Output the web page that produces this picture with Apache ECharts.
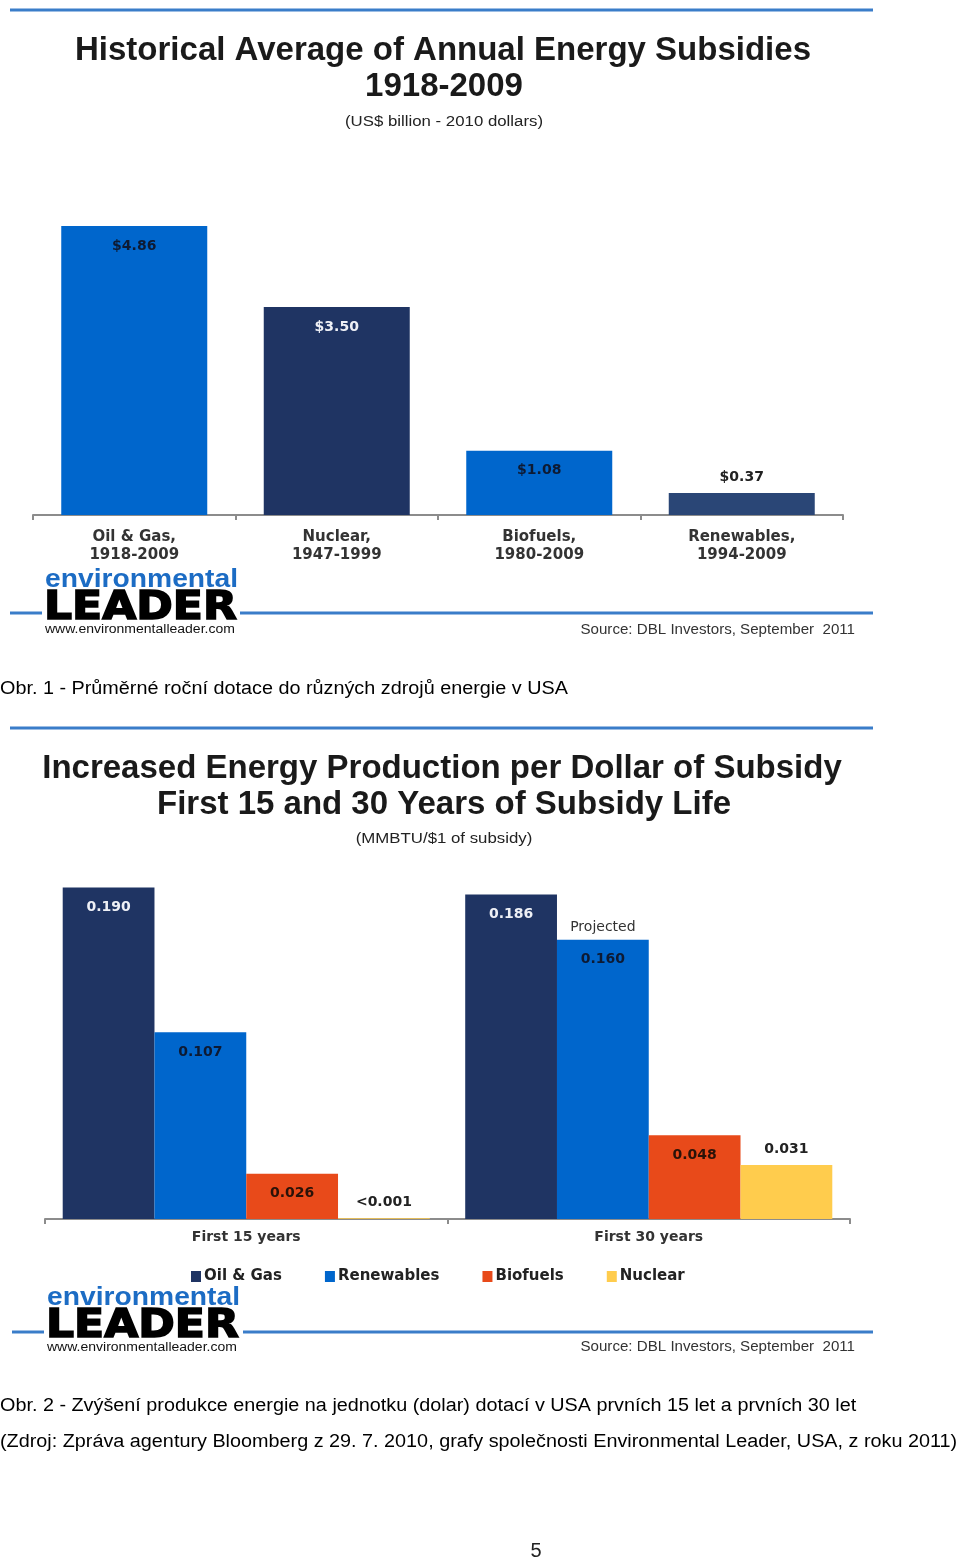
<!DOCTYPE html>
<html><head><meta charset="utf-8">
<script src="https://cdn.jsdelivr.net/npm/echarts@6/dist/echarts.min.js"></script>
<style>html,body{margin:0;padding:0;background:#fff}#c{width:960px;height:1561px}</style>
</head><body><div id="c"></div>
<script>
// ---- Chart 1 data ----
const subsidyCategories = ['Oil & Gas,\n1918-2009', 'Nuclear,\n1947-1999', 'Biofuels,\n1980-2009', 'Renewables,\n1994-2009'];
const subsidyValues = [4.86, 3.50, 1.08, 0.37];
const subsidyLabels = ['$4.86', '$3.50', '$1.08', '$0.37'];

// ---- Chart 2 data ----
const periodCategories = ['First 15 years', 'First 30 years'];
const seriesNames = ['Oil & Gas', 'Renewables', 'Biofuels', 'Nuclear'];
const oilGasValues = [0.190, 0.186];
const renewablesValues = [0.107, 0.160];
const biofuelsValues = [0.026, 0.048];
const nuclearValues = [0.0005, 0.031];
const oilGasLabels = ['0.190', '0.186'];
const renewablesLabels = ['0.107', '0.160'];
const biofuelsLabels = ['0.026', '0.048'];
const nuclearLabels = ['<0.001', '0.031'];

// ---- styles ----
const NAVY = '#1f3463', BLUE = '#0066cc', ORANGE = '#e84a1a', YELLOW = '#ffcc4d';
const LINE_BLUE = '#3a7dc9';
const VAL_FONT = 'DejaVu Sans';
const c1Colors = [BLUE, NAVY, BLUE, '#2a4676'];
const c1LabelColors = ['#0d1a33', '#eef0f6', '#0d1a33', '#222'];
const c1LabelPos = ['insideTop', 'insideTop', 'insideTop', 'top'];

function valLabel(text, color, pos) {
  return { show: true, formatter: text, color: color, position: pos,
    distance: pos === 'top' ? 9 : 13, fontFamily: VAL_FONT, fontWeight: 'bold', fontSize: 14 };
}

const chart1Data = subsidyValues.map((v, i) => ({
  value: v, itemStyle: { color: c1Colors[i] },
  label: valLabel(subsidyLabels[i], c1LabelColors[i], c1LabelPos[i])
}));

function series2(name, values, labels, color, labelColors, positions, extra) {
  return Object.assign({
    name: name, type: 'bar', xAxisIndex: 1, yAxisIndex: 1,
    barGap: '0%', barCategoryGap: '8.8%',
    itemStyle: { color: color },
    data: values.map((v, i) => ({ value: v, label: valLabel(labels[i], labelColors[i], positions[i]) }))
  }, extra || {});
}

function txt(text, x, y, font, fill, align, extra) {
  return Object.assign({ type: 'text', x: x, y: y, silent: true,
    style: { text: text, font: font, fill: fill, align: align || 'center', verticalAlign: 'middle' } }, extra || {});
}
function hline(x1, x2, y) {
  return { type: 'line', silent: true, shape: { x1: x1, y1: y, x2: x2, y2: y }, style: { stroke: LINE_BLUE, lineWidth: 3 } };
}
function logo(dx, dy) {
  const lead = txt('LEADER', 44 + dx, 609 + dy, 'bold 39px "DejaVu Sans"', '#000', 'left', { scaleX: 1.13 });
  lead.style.stroke = '#000'; lead.style.lineWidth = 1.6;
  return [
    txt('environmental', 45 + dx, 580 + dy, 'bold 25px "Liberation Sans"', '#1c6cc4', 'left', { scaleX: 1.13 }),
    lead,
    txt('www.environmentalleader.com', 45 + dx, 630 + dy, '12.5px "Liberation Sans"', '#111', 'left', { scaleX: 1.12 })
  ];
}

const TITLE_FONT = 'bold 33px "Liberation Sans"';
const SUB_FONT = '14px "Liberation Sans"';
const CAP_FONT = '18px "Liberation Sans"';
const graphics = [].concat(
  [hline(10, 873, 10),
   txt('Historical Average of Annual Energy Subsidies', 443, 51, TITLE_FONT, '#1a1a1a'),
   txt('1918-2009', 444, 87, TITLE_FONT, '#1a1a1a'),
   txt('(US$ billion - 2010 dollars)', 444, 122, SUB_FONT, '#222', 'center', { scaleX: 1.2 }),
   hline(10, 42, 613), hline(240, 873, 613),
   txt('Source: DBL Investors, September  2011', 855, 630, SUB_FONT, '#333', 'right', { scaleX: 1.08 }),
   txt('Obr. 1 - Průměrné roční dotace do různých zdrojů energie v USA', 0, 689, CAP_FONT, '#000', 'left', { scaleX: 1.1 }),
   hline(10, 873, 728),
   txt('Increased Energy Production per Dollar of Subsidy', 442, 769, TITLE_FONT, '#1a1a1a'),
   txt('First 15 and 30 Years of Subsidy Life', 444, 805, TITLE_FONT, '#1a1a1a'),
   txt('(MMBTU/$1 of subsidy)', 444, 839, SUB_FONT, '#222', 'center', { scaleX: 1.2 }),
   hline(12, 44, 1332), hline(243, 873, 1332),
   txt('Source: DBL Investors, September  2011', 855, 1347, SUB_FONT, '#333', 'right', { scaleX: 1.08 }),
   txt('Obr. 2 - Zvýšení produkce energie na jednotku (dolar) dotací v USA prvních 15 let a prvních 30 let', 0, 1406, CAP_FONT, '#000', 'left', { scaleX: 1.1 }),
   txt('(Zdroj: Zpráva agentury Bloomberg z 29. 7. 2010, grafy společnosti Environmental Leader, USA, z roku 2011)', 0, 1442, CAP_FONT, '#000', 'left', { scaleX: 1.1 }),
   txt('5', 536, 1551, '20px "Liberation Sans"', '#222')
  ],
  logo(0, 0), logo(2, 718)
);

const axisCommon = {
  axisLine: { lineStyle: { color: '#8c8c8c', width: 2 } },
  axisTick: { show: true, length: 5, lineStyle: { color: '#8c8c8c', width: 2 } },
  splitLine: { show: false }
};

const option = {
  animation: false,
  backgroundColor: '#fff',
  grid: [
    { left: 33, right: 117, top: 188, bottom: 1046 },
    { left: 45, right: 110, top: 870, bottom: 342 }
  ],
  xAxis: [
    Object.assign({ type: 'category', gridIndex: 0, data: subsidyCategories,
      axisLabel: { margin: 13, fontFamily: VAL_FONT, fontWeight: 'bold', fontSize: 15, lineHeight: 18, color: '#333' } }, axisCommon),
    Object.assign({ type: 'category', gridIndex: 1, data: periodCategories,
      axisLabel: { margin: 11, fontFamily: VAL_FONT, fontWeight: 'bold', fontSize: 14, color: '#333' } }, axisCommon)
  ],
  yAxis: [
    { type: 'value', gridIndex: 0, min: 0, max: 5.5, show: false },
    { type: 'value', gridIndex: 1, min: 0, max: 0.2, show: false }
  ],
  legend: {
    data: seriesNames, left: 186, top: 1264, itemWidth: 10, itemHeight: 11, itemGap: 43, icon: 'rect',
    textStyle: { fontFamily: VAL_FONT, fontWeight: 'bold', fontSize: 15, color: '#222', padding: [0, 0, 0, -2] },
    selectedMode: false
  },
  series: [
    { name: 'Subsidy', type: 'bar', xAxisIndex: 0, yAxisIndex: 0, barWidth: 146, data: chart1Data },
    series2('Oil & Gas', oilGasValues, oilGasLabels, NAVY, ['#eef0f6', '#eef0f6'], ['insideTop', 'insideTop']),
    series2('Renewables', renewablesValues, renewablesLabels, BLUE, ['#0d1a33', '#0d1a33'], ['insideTop', 'insideTop'], {
      markPoint: {
        silent: true, symbol: 'rect', symbolSize: 1, itemStyle: { color: 'rgba(0,0,0,0)' },
        label: { show: true, position: 'top', distance: 5, formatter: 'Projected', color: '#333', fontFamily: VAL_FONT, fontSize: 14 },
        data: [{ coord: [periodCategories[1], renewablesValues[1]] }]
      }
    }),
    series2('Biofuels', biofuelsValues, biofuelsLabels, ORANGE, ['#2a1208', '#2a1208'], ['insideTop', 'insideTop']),
    series2('Nuclear', nuclearValues, nuclearLabels, YELLOW, ['#222', '#222'], ['top', 'top'])
  ],
  graphic: graphics
};

const chart = echarts.init(document.getElementById('c'), null, { renderer: 'canvas' });
chart.setOption(option);
</script></body></html>
